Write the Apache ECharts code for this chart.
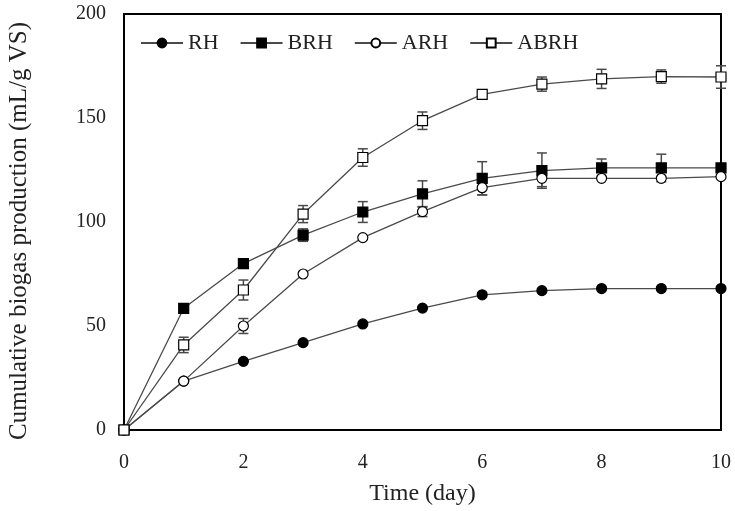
<!DOCTYPE html>
<html>
<head>
<meta charset="utf-8">
<script src="https://cdn.jsdelivr.net/npm/echarts@6/dist/echarts.min.js"></script>
<style>
  html, body { margin: 0; padding: 0; background: #fff; }
  #chart { width: 735px; height: 511px; }
</style>
</head>
<body>
<div id="chart"></div>
<script>
// Cumulative biogas production over 10 days for four rice-husk treatments
const days = [0, 1, 2, 3, 4, 5, 6, 7, 8, 9, 10];
const xTicks = [0, 2, 4, 6, 8, 10];
const yTicks = [0, 50, 100, 150, 200];

const rh   = [0, 23.5, 33, 42, 51, 58.6, 65, 67, 68, 68, 68];
const brh  = [0, 58.5, 80, 93.7, 104.8, 113.5, 121, 124.7, 126, 126, 126];
const arh  = [0, 23.5, 50, 75, 92.5, 105, 116.5, 121, 121, 121, 121.8];
const abrh = [0, 40.9, 67.3, 103.8, 131, 148.7, 161.4, 166.3, 168.8, 169.9, 169.7];

// standard deviations (half-length of each error bar)
const rhErr   = [0, 0, 0, 0, 0, 0, 0, 0, 0, 0, 0];
const brhErr  = [0, 0, 0, 3, 5, 6.3, 8, 8.5, 4.3, 6.6, 0];
const arhErr  = [0, 0, 3.6, 0, 0, 2.4, 3.4, 4, 0, 0, 0];
const abrhErr = [0, 3.7, 4.8, 4.1, 4.2, 4.2, 0, 3.4, 4.6, 3.2, 5.4];

const serif = 'Liberation Serif';
const lineColor = '#4a4a4a';

function pairs(vals) { return days.map((d, i) => [d, vals[i]]); }
function errItems(vals, errs) {
  return days.map((d, i) => [d, vals[i], errs[i]]).filter(p => p[2] > 0);
}

function errorBars(name, vals, errs) {
  return {
    type: 'custom',
    name: name + ' sd',
    z: 1,
    silent: true,
    data: errItems(vals, errs),
    renderItem: function (params, api) {
      const x = api.value(0), y = api.value(1), e = api.value(2);
      const top = api.coord([x, y + e]);
      const bot = api.coord([x, y - e]);
      const hw = 5;
      const style = { stroke: lineColor, lineWidth: 1.5 };
      return {
        type: 'group',
        children: [
          { type: 'line', shape: { x1: top[0], y1: top[1], x2: bot[0], y2: bot[1] }, style: style },
          { type: 'line', shape: { x1: top[0] - hw, y1: top[1], x2: top[0] + hw, y2: top[1] }, style: style },
          { type: 'line', shape: { x1: bot[0] - hw, y1: bot[1], x2: bot[0] + hw, y2: bot[1] }, style: style }
        ]
      };
    }
  };
}

function lineSeries(name, vals, symbol, fill) {
  return {
    type: 'line',
    name: name,
    z: 3,
    data: pairs(vals),
    symbol: symbol,
    symbolSize: 10,
    showAllSymbol: true,
    lineStyle: { color: lineColor, width: 1.3 },
    itemStyle: { color: fill, borderColor: '#000', borderWidth: 1.2, opacity: 1 },
    emphasis: { disabled: true }
  };
}

const chart = echarts.init(document.getElementById('chart'));
chart.setOption({
  animation: false,
  backgroundColor: '#fff',
  grid: {
    left: 124, right: 14, top: 14, bottom: 81,
    outerBoundsMode: 'none',
    show: true, borderColor: '#000', borderWidth: 2, backgroundColor: 'transparent'
  },
  legend: {
    left: 140, top: 32, padding: 0,
    itemWidth: 42, itemHeight: 11, itemGap: 21,
    data: ['RH', 'BRH', 'ARH', 'ABRH'],
    textStyle: { fontFamily: serif, fontSize: 22, color: '#222' }
  },
  xAxis: {
    type: 'value', min: 0, max: 10, interval: 2,
    name: 'Time (day)', nameLocation: 'middle', nameGap: 52,
    nameTextStyle: { fontFamily: serif, fontSize: 24, color: '#222' },
    axisLine: { show: true, lineStyle: { color: '#000', width: 2 } },
    axisTick: { show: false },
    splitLine: { show: false },
    axisLabel: {
      margin: 23, fontFamily: serif, fontSize: 20, color: '#222',
      customValues: xTicks
    }
  },
  yAxis: {
    type: 'value', min: 0, max: 200, interval: 50,
    name: 'Cumulative biogas production (mL/g VS)', nameLocation: 'middle', nameGap: 92,
    nameTextStyle: { fontFamily: serif, fontSize: 25, color: '#222', padding: [0, 18, 0, 0] },
    axisLine: { show: true, lineStyle: { color: '#000', width: 2 } },
    axisTick: { show: false },
    splitLine: { show: false },
    axisLabel: {
      margin: 18, fontFamily: serif, fontSize: 20, color: '#222',
      customValues: yTicks
    }
  },
  series: [
    errorBars('RH', rh, rhErr),
    errorBars('BRH', brh, brhErr),
    errorBars('ARH', arh, arhErr),
    errorBars('ABRH', abrh, abrhErr),
    lineSeries('RH', rh, 'circle', '#000'),
    lineSeries('BRH', brh, 'rect', '#000'),
    lineSeries('ARH', arh, 'circle', '#fff'),
    lineSeries('ABRH', abrh, 'rect', '#fff')
  ]
});
</script>
</body>
</html>
